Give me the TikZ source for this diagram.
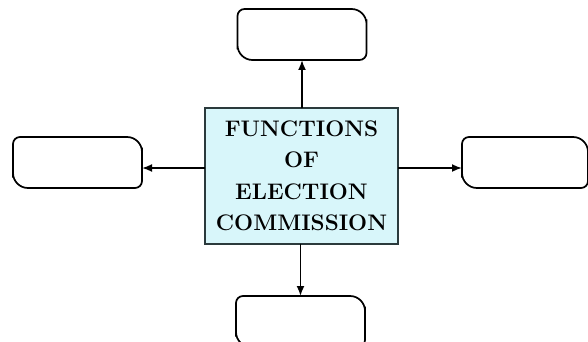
\documentclass[tikz,border=0pt]{standalone}
\usepackage{tikz}
\usetikzlibrary{arrows.meta,positioning}

\definecolor{ecFill}{HTML}{D8F6FA}
\definecolor{ecEdge}{HTML}{2B3A3C}

\tikzset{
  mainbox/.style={
    draw=ecEdge, fill=ecFill, line width=2pt, outer sep=0pt,
    minimum width=193pt, minimum height=135pt, align=center,
    font=\fontsize{22.5}{31.5}\selectfont\bfseries
  },
  leafbox/.style={minimum width=129pt, minimum height=51pt, outer sep=0pt},
  leafline/.style={line width=1.7pt, black},
  arrow/.style={-{Latex[length=10pt,width=8pt]}, line width=1.8pt, black}
}

% blank box: small round on top-left and bottom-right, big round on the others
\newcommand{\leafedge}[1]{%
  \draw[leafline] (#1.north) [rounded corners=15pt] -| (#1.east)
    [rounded corners=7pt] |- (#1.south)
    [rounded corners=15pt] -| (#1.west)
    [rounded corners=7pt] |- (#1.north);}

\begin{document}
\begin{tikzpicture}[x=1pt, y=-1pt]
  \clip (0,0) rectangle (588,342);
  \fill[white] (0,0) rectangle (588,342);

  \node[mainbox] (main) at (301.5,176) {FUNCTIONS\\OF\\ELECTION\\COMMISSION};

  \node[leafbox, above=48.5pt of main, xshift=0.5pt] (top) {};
  \node[leafbox, left=63pt of main, yshift=13.5pt] (left) {};
  \node[leafbox, right=64pt of main, yshift=13.5pt, minimum width=126pt] (right) {};
  \node[leafbox, below=52.5pt of main, xshift=-1pt] (bottom) {};

  \foreach \n in {top,left,right,bottom}{\leafedge{\n}}

  % side arrows sit a little below the middle of the side boxes
  \coordinate (lend) at ([yshift=-5.5pt]left.east);
  \coordinate (rend) at ([yshift=-5.5pt]right.west);

  \draw[arrow] (main.north -| top.south) -- (top.south);
  \draw[arrow] (main.west |- lend) -- (lend);
  \draw[arrow] (main.east |- rend) -- (rend);
  \draw[arrow] (main.south -| bottom.north) -- (bottom.north);
\end{tikzpicture}
\end{document}
